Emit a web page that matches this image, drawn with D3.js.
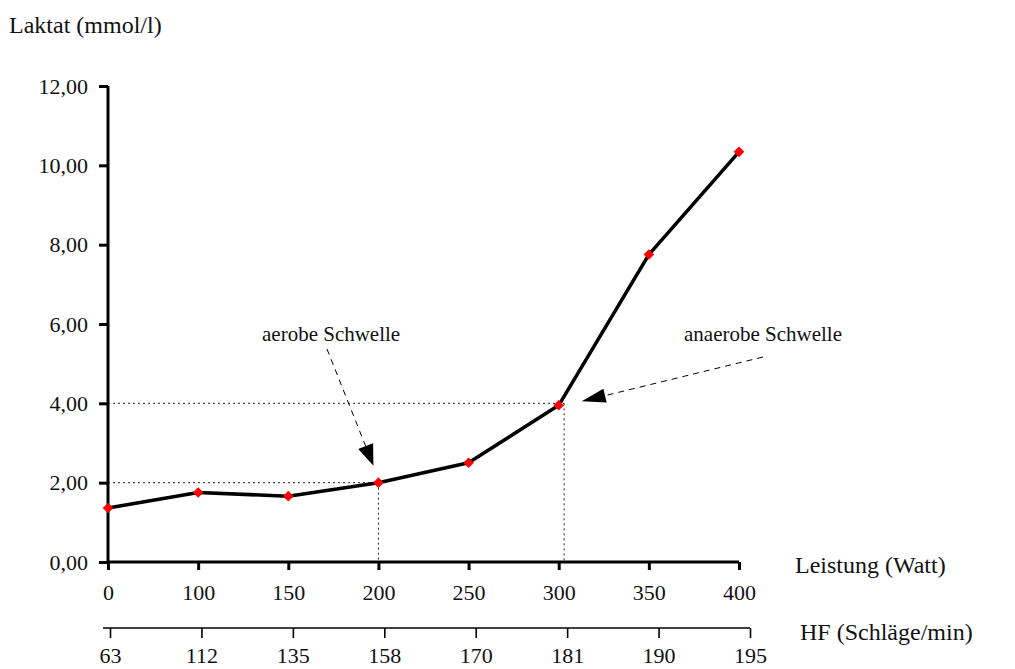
<html>
<head>
<script src="https://d3js.org/d3.v7.min.js"></script>
<style>
  body { margin: 0; background: #fff; }
</style>
</head>
<body>
<svg id="chart" width="1015" height="669" font-family="Liberation Serif"></svg>
<script>
  // data
  let leistung = ["0", "100", "150", "200", "250", "300", "350", "400"];
  let laktat = [1.36, 1.75, 1.66, 2.0, 2.5, 3.95, 7.75, 10.34];
  let hf = ["63", "112", "135", "158", "170", "181", "190", "195"];
  let yTicks = [0, 2, 4, 6, 8, 10, 12];
  // thresholds: lactate level and position on the watt axis (in steps)
  let schwellen = [
    {name: "aerobe Schwelle", laktat: 2, step: 3},
    {name: "anaerobe Schwelle", laktat: 4, step: 5.06}
  ];

  const SERIF = "Liberation Serif";

  let svg = d3.select("#chart");

  let x = d3.scaleLinear().domain([0, leistung.length - 1]).range([108, 739]);
  let y = d3.scaleLinear().domain([0, 12]).range([562, 86]);
  let xHF = d3.scalePoint().domain(hf).range([110, 750]);

  // note: letter-spacing / dy make the renderer drop the serif font, so none here
  function styleText(sel, size) {
    sel.attr("font-family", SERIF)
      .attr("font-size", size)
      .attr("fill", "#111");
  }

  //dotted guide lines for thresholds
  schwellen.forEach(s => {
    svg.append("line")
      .attr("x1", x(0)).attr("x2", x(s.step))
      .attr("y1", y(s.laktat)).attr("y2", y(s.laktat))
      .attr("stroke", "#222").attr("stroke-width", 1)
      .attr("stroke-dasharray", "2,3");
    svg.append("line")
      .attr("x1", x(s.step)).attr("x2", x(s.step))
      .attr("y1", y(s.laktat)).attr("y2", y(0))
      .attr("stroke", "#222").attr("stroke-width", 1)
      .attr("stroke-dasharray", "2,3");
  });

  //y axis
  let yAxis = svg.append("g")
      .attr("transform", "translate(" + x(0) + ",0)")
      .call(d3.axisLeft(y).tickValues(yTicks).tickSize(9).tickPadding(11)
        .tickFormat(d => d3.format(".2f")(d).replace(".", ",")));
  yAxis.attr("font-family", SERIF).attr("font-size", 22);
  yAxis.select(".domain").attr("stroke", "#000").attr("stroke-width", 3)
      .attr("d", "M0," + y(12) + "V" + y(0));
  yAxis.selectAll(".tick line").attr("stroke", "#000").attr("stroke-width", 3);
  styleText(yAxis.selectAll(".tick text").attr("dy", null).attr("y", 7), 22);

  //x axis (Leistung)
  let xAxis = svg.append("g")
      .attr("transform", "translate(0," + y(0) + ")")
      .call(d3.axisBottom(x).tickValues(d3.range(leistung.length))
        .tickSize(8).tickPadding(15).tickFormat(i => leistung[i]));
  xAxis.attr("font-family", SERIF).attr("font-size", 22);
  xAxis.select(".domain").attr("stroke", "#000").attr("stroke-width", 3)
      .attr("d", "M" + x(0) + ",0H" + x(leistung.length - 1));
  xAxis.selectAll(".tick line").attr("stroke", "#000").attr("stroke-width", 3);
  styleText(xAxis.selectAll(".tick text").attr("dy", null).attr("y", 38), 22);

  //second x axis (heart rate)
  let hfAxis = svg.append("g")
      .attr("transform", "translate(0,628)")
      .call(d3.axisBottom(xHF).tickSize(10).tickPadding(10));
  hfAxis.attr("font-family", SERIF).attr("font-size", 22);
  hfAxis.select(".domain").attr("stroke", "#000").attr("stroke-width", 1.6)
      .attr("d", "M103,0H750");
  hfAxis.selectAll(".tick line").attr("stroke", "#000").attr("stroke-width", 1.6);
  styleText(hfAxis.selectAll(".tick text").attr("dy", null).attr("y", 35), 22);

  //axis titles
  styleText(svg.append("text").attr("x", 9).attr("y", 33)
    .text("Laktat (mmol/l)"), 24);
  styleText(svg.append("text").attr("x", 795).attr("y", 573)
    .text("Leistung (Watt)"), 24);
  styleText(svg.append("text").attr("x", 800).attr("y", 640)
    .text("HF (Schläge/min)"), 24);

  //the lactate curve
  let line = d3.line()
      .x((d, i) => x(i))
      .y(d => y(d));

  svg.append("path")
    .datum(laktat)
    .attr("d", line)
    .attr("fill", "none")
    .attr("stroke", "#000")
    .attr("stroke-width", 3.5)
    .attr("stroke-linejoin", "round");

  svg.selectAll(".pt")
    .data(laktat)
    .enter().append("path")
    .attr("class", "pt")
    .attr("d", d3.symbol().type(d3.symbolSquare).size(56))
    .attr("transform", (d, i) => "translate(" + x(i) + "," + y(d) + ") rotate(45)")
    .attr("fill", "#ff0000");

  //annotations with dashed arrows
  function arrow(x1, y1, tx, ty, len, half) {
    let dx = tx - x1, dy = ty - y1;
    let L = Math.sqrt(dx * dx + dy * dy);
    let ux = dx / L, uy = dy / L;
    let bx = tx - ux * len, by = ty - uy * len;
    svg.append("line")
      .attr("x1", x1).attr("y1", y1).attr("x2", bx).attr("y2", by)
      .attr("stroke", "#000").attr("stroke-width", 1)
      .attr("stroke-dasharray", "6,5");
    svg.append("path")
      .attr("d", "M" + tx + "," + ty +
        "L" + (bx - uy * half) + "," + (by + ux * half) +
        "L" + (bx + uy * half) + "," + (by - ux * half) + "Z")
      .attr("fill", "#000");
  }

  styleText(svg.append("text").attr("x", 262).attr("y", 341)
    .text(schwellen[0].name), 21);
  arrow(327, 349, x(3) - 5, y(2) - 17, 21, 8);

  styleText(svg.append("text").attr("x", 684).attr("y", 341)
    .text(schwellen[1].name), 21);
  arrow(763, 357, x(5) + 23, y(4) - 2, 24, 7);
</script>
</body>
</html>
